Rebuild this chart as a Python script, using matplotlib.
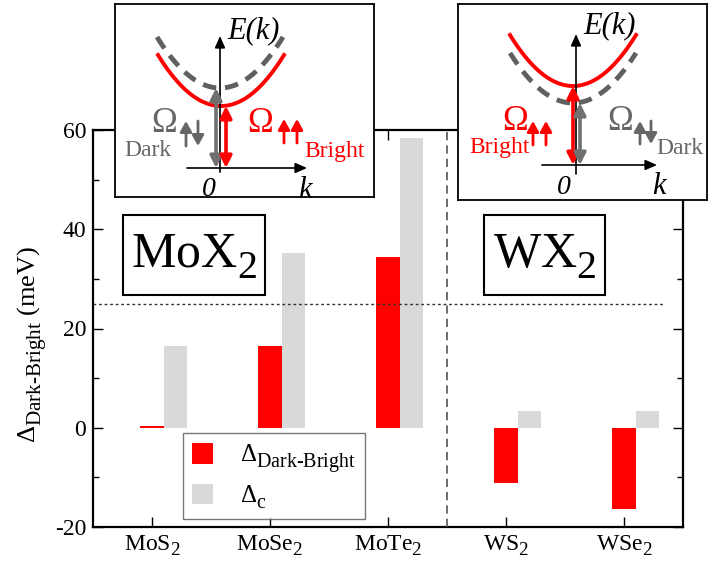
import numpy as np
import matplotlib
matplotlib.use("Agg")
import matplotlib.pyplot as plt
import matplotlib.transforms as mtransforms
from matplotlib.patches import Rectangle

try:  # larger, lower sub/superscripts, as in the reference typesetting
    import matplotlib._mathtext as _mt
    _mt.SHRINK_FACTOR = 0.8
    _mt.FontConstantsBase.sub1 = 0.5
    _mt.FontConstantsBase.sub2 = 0.6
except Exception:
    pass

# ---------------- data ----------------
materials = ["MoS$_2$", "MoSe$_2$", "MoTe$_2$", "WS$_2$", "WSe$_2$"]
delta_dark_bright = [0.4, 16.5, 34.5, -11.2, -16.3]
delta_c = [16.5, 35.3, 58.4, 3.4, 3.4]
y_ticks = [-20, 0, 20, 40, 60]
threshold = 25
group_split = 2.5

RED = "#ff0000"
LGRAY = "#d9d9d9"
DGRAY = "#666666"

plt.rcParams["font.family"] = ["Liberation Serif", "DejaVu Sans"]
plt.rcParams["mathtext.fontset"] = "custom"
plt.rcParams["mathtext.rm"] = "Liberation Serif"
plt.rcParams["mathtext.it"] = "Liberation Serif:italic"
plt.rcParams["mathtext.bf"] = "Liberation Serif:bold"

W, H = 710, 570
fig = plt.figure(figsize=(W / 100, H / 100), dpi=100)
pix = mtransforms.Affine2D().scale(1 / W, -1 / H).translate(0, 1) + fig.transFigure

# ---------------- main axes ----------------
ax = fig.add_axes([93 / W, 43 / H, 590 / W, 397 / H])
x = np.arange(len(materials))
bw = 0.2
ax.bar(x, delta_dark_bright, width=bw, color=RED, zorder=2, label=r"$\Delta_{\text{Dark-Bright}}$")
ax.bar(x + bw, delta_c, width=bw, color=LGRAY, zorder=2, label=r"$\Delta_{\text{c}}$")
ax.axhline(threshold, xmin=0, xmax=0.97, color="#333333", lw=1.0, ls=(0, (2, 2)), zorder=3)
ax.axvline(group_split, color="#555555", lw=1.2, ls=(0, (5, 3)), zorder=3)

ax.set_xlim(-0.5, 4.5)
ax.set_ylim(-20, 60)
ax.set_xticks(x)
ax.set_xticklabels(materials, fontsize=17)
ax.set_yticks(y_ticks)
ax.set_yticklabels([str(v) for v in y_ticks], fontsize=17)
ax.set_yticks(np.arange(-10, 60, 20), minor=True)
ax.tick_params(axis="both", which="major", direction="in", length=7, width=1.0,
               top=True, right=True, pad=5)
ax.tick_params(axis="y", which="minor", direction="in", length=4, width=1.0, right=True)
for s in ax.spines.values():
    s.set_linewidth(1.6)

ax.set_ylabel(r"$\Delta_{\text{Dark-Bright}}$ (meV)", fontsize=19)
ax.yaxis.set_label_coords(-0.075, 0.46)

leg = ax.legend(loc="upper left", bbox_to_anchor=(183 / W, 1 - 433 / H),
                bbox_transform=fig.transFigure, fontsize=18, frameon=True,
                fancybox=False, edgecolor="#555555", borderpad=0.35,
                handlelength=0.85, handleheight=0.9, handletextpad=1.1,
                labelspacing=0.35, borderaxespad=0)
leg.get_frame().set_linewidth(1.0)

# group boxes
for (bx, by, bwid, bh, label) in [(123, 215, 142, 80, "MoX$_2$"), (484, 215, 121, 80, "WX$_2$")]:
    fig.patches.append(Rectangle((bx, by), bwid, bh, transform=pix, fill=True,
                                 facecolor="white", edgecolor="black", lw=1.5, zorder=5))
    fig.text(bx + bwid / 2, by + bh / 2 + 2, label, transform=pix, ha="center", va="center",
             fontsize=36, zorder=6)


# ---------------- insets (schematic) ----------------
def pix_axes(x0, y0, x1, y1):
    a = fig.add_axes([x0 / W, 1 - y1 / H, (x1 - x0) / W, (y1 - y0) / H], zorder=10)
    a.set_xlim(x0, x1)
    a.set_ylim(y1, y0)
    a.set_xticks([])
    a.set_yticks([])
    for s in a.spines.values():
        s.set_linewidth(1.3)
    return a


def arrow(a, x0, y0, x1, y1, color, lw, style="-|>", ms=12):
    a.annotate("", xy=(x1, y1), xytext=(x0, y0),
               arrowprops=dict(arrowstyle=style, color=color, lw=lw, mutation_scale=ms,
                               shrinkA=0, shrinkB=0))


def parabola(a, xc, ymin, xe, ytop, **kw):
    xs = np.linspace(xc - xe, xc + xe, 100)
    k = (ymin - ytop) / xe ** 2
    a.plot(xs, ymin - k * (xs - xc) ** 2, **kw)


AX_STYLE = "-|>,head_length=0.5,head_width=0.22"
DBL_STYLE = "<|-|>,head_length=0.5,head_width=0.25"
SPIN_STYLE = "-|>,head_length=0.45,head_width=0.25"

# left inset (MoX2): dark state above bright state
a1 = pix_axes(115, 4, 374, 197)
parabola(a1, 220, 88, 63, 37, color="#606060", lw=3.5, ls=(0, (2.8, 1.8)))
parabola(a1, 221, 106, 63, 55, color=RED, lw=2.8)
arrow(a1, 220, 172, 220, 36, "black", 1.2, AX_STYLE, 14)
arrow(a1, 187, 168, 307, 168, "black", 1.2, AX_STYLE, 14)
arrow(a1, 216, 168, 216, 88, "#707070", 2.6, DBL_STYLE, 14)
arrow(a1, 226, 168, 226, 106, RED, 2.6, DBL_STYLE, 14)
a1.text(227, 31, "E(k)", style="italic", fontsize=22, ha="left", va="center")
a1.text(209, 190, "0", style="italic", fontsize=20, ha="center", va="center")
a1.text(305, 190, "k", style="italic", fontsize=22, ha="center", va="center")
a1.text(164, 123, "Ω", color=DGRAY, fontsize=25, ha="center", va="center")
arrow(a1, 186, 146, 186, 121, DGRAY, 2.0, SPIN_STYLE, 14)
arrow(a1, 198, 121, 198, 146, DGRAY, 2.0, SPIN_STYLE, 14)
a1.text(148, 151, "Dark", color=DGRAY, fontsize=17, ha="center", va="center")
a1.text(260, 123, "Ω", color=RED, fontsize=25, ha="center", va="center")
arrow(a1, 284, 143, 284, 119, RED, 2.0, SPIN_STYLE, 14)
arrow(a1, 297, 143, 297, 119, RED, 2.0, SPIN_STYLE, 14)
a1.text(335, 151, "Bright", color=RED, fontsize=17, ha="center", va="center")

# right inset (WX2): bright state above dark state
a2 = pix_axes(458, 4, 707, 200)
parabola(a2, 573, 103, 63, 53, color="#606060", lw=3.5, ls=(0, (2.8, 1.8)))
parabola(a2, 573, 86, 63, 35, color=RED, lw=2.8)
arrow(a2, 576, 174, 576, 34, "black", 1.2, AX_STYLE, 14)
arrow(a2, 542, 165, 657, 165, "black", 1.2, AX_STYLE, 14)
arrow(a2, 573, 165, 573, 86, RED, 2.6, DBL_STYLE, 14)
arrow(a2, 580, 165, 580, 103, "#707070", 2.6, DBL_STYLE, 14)
a2.text(583, 26, "E(k)", style="italic", fontsize=22, ha="left", va="center")
a2.text(564, 187, "0", style="italic", fontsize=20, ha="center", va="center")
a2.text(659, 187, "k", style="italic", fontsize=22, ha="center", va="center")
a2.text(515, 121, "Ω", color=RED, fontsize=25, ha="center", va="center")
arrow(a2, 533, 145, 533, 121, RED, 2.0, SPIN_STYLE, 14)
arrow(a2, 546, 145, 546, 121, RED, 2.0, SPIN_STYLE, 14)
a2.text(500, 148, "Bright", color=RED, fontsize=17, ha="center", va="center")
a2.text(620, 121, "Ω", color=DGRAY, fontsize=25, ha="center", va="center")
arrow(a2, 640, 144, 640, 121, DGRAY, 2.0, SPIN_STYLE, 14)
arrow(a2, 651, 121, 651, 144, DGRAY, 2.0, SPIN_STYLE, 14)
a2.text(680, 148, "Dark", color=DGRAY, fontsize=17, ha="center", va="center")

fig.savefig("out.png", dpi=100)
